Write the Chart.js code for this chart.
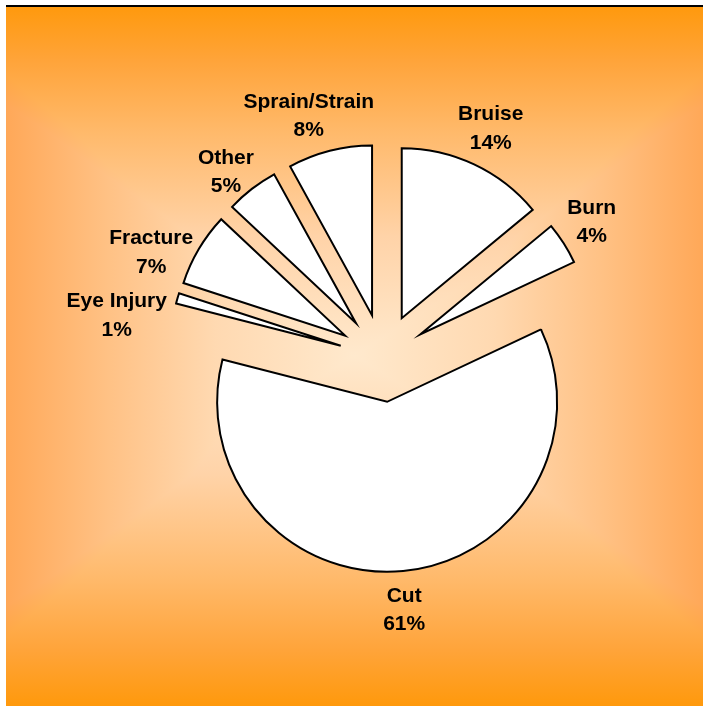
<!DOCTYPE html>
<html>
<head>
<meta charset="utf-8">
<title>Injury types</title>
<script src="https://cdn.jsdelivr.net/npm/chart.js@4.4.1/dist/chart.umd.min.js"></script>
<style>
    html, body { margin: 0; padding: 0; background: #fff; }
    #wrap { position: relative; width: 703px; height: 708px; }
</style>
</head>
<body>
<div id="wrap"><canvas id="injuryChart"></canvas></div>
<script>
// data, clockwise from 12 o'clock
const injuryLabels = ['Bruise', 'Burn', 'Cut', 'Eye Injury', 'Fracture', 'Other', 'Sprain/Strain'];
const injuryPercents = [14, 4, 61, 1, 7, 5, 8];

const EXPLODE = 44;
const LABEL_GAP = 11;
const LABEL_FONT = 'bold 21px "Liberation Sans", Arial, sans-serif';
const LINE_HEIGHT = 28.5;
const LEFT_DROP = 30; // labels on the left hang a bit lower

document.addEventListener('DOMContentLoaded', function () {
    const canvas = document.getElementById('injuryChart');

    // orange frame, lighter toward the middle
    const backgroundPlugin = {
        id: 'frameBackground',
        beforeDraw(chart) {
            const ctx = chart.ctx;
            const x = 6, y = 5, w = chart.width - 6, h = chart.height - 7;
            ctx.save();
            const vGrad = ctx.createLinearGradient(0, y, 0, y + h);
            vGrad.addColorStop(0, '#ff990c');
            vGrad.addColorStop(0.08, '#ffa43a');
            vGrad.addColorStop(0.18, '#ffb96a');
            vGrad.addColorStop(0.33, '#ffd3a8');
            vGrad.addColorStop(0.5, '#ffe9cd');
            vGrad.addColorStop(0.67, '#ffd3a8');
            vGrad.addColorStop(0.82, '#ffb96a');
            vGrad.addColorStop(0.92, '#ffa43a');
            vGrad.addColorStop(1, '#ff990c');
            ctx.fillStyle = vGrad;
            ctx.fillRect(x, y, w, h);

            ctx.globalCompositeOperation = 'darken';
            const hGrad = ctx.createLinearGradient(x, 0, x + w, 0);
            hGrad.addColorStop(0, '#ffa858');
            hGrad.addColorStop(0.15, '#ffc286');
            hGrad.addColorStop(0.3, '#ffd9b1');
            hGrad.addColorStop(0.5, '#ffe9cd');
            hGrad.addColorStop(0.7, '#ffd9b1');
            hGrad.addColorStop(0.85, '#ffc286');
            hGrad.addColorStop(1, '#ffa858');
            ctx.fillStyle = hGrad;
            ctx.fillRect(x, y, w, h);
            ctx.globalCompositeOperation = 'source-over';

            ctx.fillStyle = '#000';
            ctx.fillRect(x, y, w, 2);
            ctx.restore();
        }
    };

    // pull every slice out along its middle angle
    const explodePlugin = {
        id: 'explodeSlices',
        beforeDatasetDraw(chart, args) {
            const ctx = chart.ctx;
            args.meta.data.forEach(arc => {
                const mid = (arc.startAngle + arc.endAngle) / 2;
                ctx.save();
                ctx.translate(Math.cos(mid) * EXPLODE, Math.sin(mid) * EXPLODE);
                arc.draw(ctx);
                ctx.restore();
            });
            return false;
        }
    };

    const sliceLabelPlugin = {
        id: 'sliceLabels',
        afterDatasetsDraw(chart) {
            const ctx = chart.ctx;
            const meta = chart.getDatasetMeta(0);
            const values = chart.data.datasets[0].data;
            const total = values.reduce((a, b) => a + b, 0);
            ctx.save();
            ctx.font = LABEL_FONT;
            ctx.fillStyle = '#000';
            ctx.textAlign = 'center';
            ctx.textBaseline = 'middle';
            meta.data.forEach((arc, i) => {
                const lines = [chart.data.labels[i], Math.round(values[i] / total * 100) + '%'];
                const w = Math.max(...lines.map(t => ctx.measureText(t).width));
                const h = lines.length * LINE_HEIGHT;
                const mid = (arc.startAngle + arc.endAngle) / 2;
                const dist = arc.outerRadius + EXPLODE + LABEL_GAP;
                const left = Math.max(0, -Math.cos(mid));
                const cx = arc.x + Math.cos(mid) * (dist + w / 2) - 2;
                const cy = arc.y + Math.sin(mid) * (dist + h / 2) + LEFT_DROP * Math.pow(left, 1.5);
                lines.forEach((t, k) => {
                    ctx.fillText(t, cx, cy - h / 2 + LINE_HEIGHT * (k + 0.5));
                });
            });
            ctx.restore();
        }
    };

    new Chart(canvas.getContext('2d'), {
        type: 'pie',
        data: {
            labels: injuryLabels,
            datasets: [{
                data: injuryPercents,
                backgroundColor: '#ffffff',
                borderColor: '#000000',
                borderWidth: 2,
                borderJoinStyle: 'miter',
                radius: 170
            }]
        },
        options: {
            responsive: true,
            maintainAspectRatio: false,
            animation: false,
            layout: { padding: { left: 63, right: 0, top: 8, bottom: 0 } },
            plugins: {
                legend: { display: false },
                tooltip: { enabled: false }
            }
        },
        plugins: [backgroundPlugin, explodePlugin, sliceLabelPlugin]
    });
});
</script>
</body>
</html>
